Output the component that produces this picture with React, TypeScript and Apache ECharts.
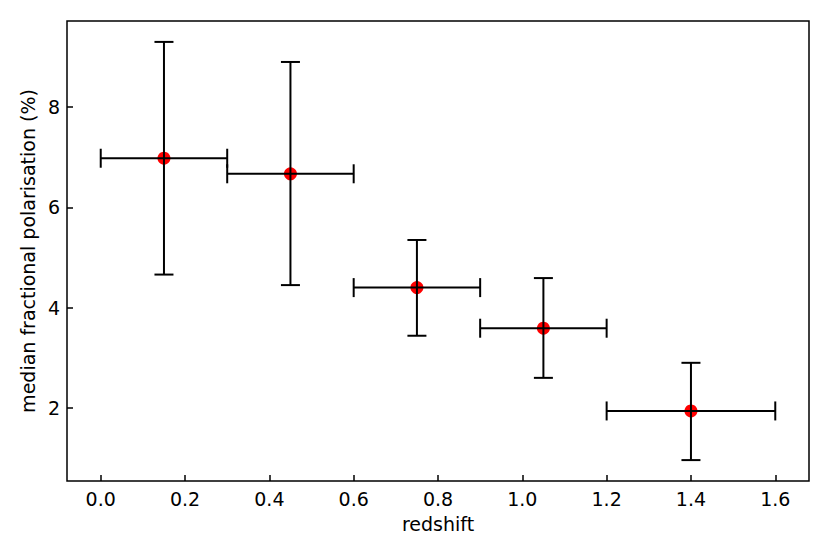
import React, { useEffect, useRef } from "react";
import * as echarts from "echarts";

const redshift = [0.15, 0.45, 0.75, 1.05, 1.4];
const redshiftLow = [0.0, 0.3, 0.6, 0.9, 1.2];
const redshiftHigh = [0.3, 0.6, 0.9, 1.2, 1.6];
const polarisation = [6.98, 6.67, 4.4, 3.59, 1.94];
const polarisationLow = [4.66, 4.45, 3.44, 2.6, 0.96];
const polarisationHigh = [9.3, 8.9, 5.35, 4.59, 2.9];

const xTicks = [0.0, 0.2, 0.4, 0.6, 0.8, 1.0, 1.2, 1.4, 1.6];
const yTicks = [2, 4, 6, 8];

const FONT = "DejaVu Sans";
const FS = 19;

export default function App() {
  const ref = useRef<HTMLDivElement>(null);

  useEffect(() => {
    document.body.style.margin = "0";
    if (!ref.current) return;
    const chart = echarts.init(ref.current, null, { renderer: "svg" });

    const errData = redshift.map((x, i) => [
      x,
      polarisation[i],
      redshiftLow[i],
      redshiftHigh[i],
      polarisationLow[i],
      polarisationHigh[i],
    ]);
    const pts = redshift.map((x, i) => [x, polarisation[i]]);

    const cap = 9.5;
    const lineStyle = { stroke: "#000", lineWidth: 2 };

    chart.setOption({
      animation: false,
      backgroundColor: "#fff",
      grid: {
        left: 67,
        right: 21,
        top: 21,
        bottom: 73,
        show: true,
        borderColor: "#000",
        borderWidth: 1.5,
        backgroundColor: "transparent",
      },
      xAxis: {
        type: "value",
        min: -0.08,
        max: 1.68,
        name: "redshift",
        nameLocation: "middle",
        nameGap: 33,
        nameTextStyle: { fontFamily: FONT, fontSize: FS, color: "#000" },
        axisLine: { show: false, onZero: false },
        splitLine: { show: false },
        axisTick: {
          show: true,
          inside: true,
          length: 6,
          lineStyle: { color: "#000", width: 1.5 },
          customValues: xTicks,
        },
        axisLabel: {
          fontFamily: FONT,
          fontSize: FS,
          color: "#000",
          margin: 8,
          customValues: xTicks,
          formatter: (v: number) => v.toFixed(1),
        },
      },
      yAxis: {
        type: "value",
        min: 0.543,
        max: 9.717,
        name: "median fractional polarisation (%)",
        nameLocation: "middle",
        nameGap: 25,
        nameTextStyle: { fontFamily: FONT, fontSize: FS, color: "#000" },
        axisLine: { show: false, onZero: false },
        splitLine: { show: false },
        axisTick: {
          show: true,
          inside: true,
          length: 6,
          lineStyle: { color: "#000", width: 1.5 },
          customValues: yTicks,
        },
        axisLabel: {
          fontFamily: FONT,
          fontSize: FS,
          color: "#000",
          margin: 7,
          customValues: yTicks,
          formatter: (v: number) => String(v),
        },
      },
      series: [
        {
          type: "scatter",
          data: pts,
          symbol: "circle",
          symbolSize: 13,
          itemStyle: { color: "#ff0000", opacity: 1 },
          z: 2,
        },
        {
          type: "custom",
          data: errData,
          clip: false,
          z: 3,
          renderItem: (params: any, api: any) => {
            const x = api.value(0);
            const y = api.value(1);
            const xl = api.value(2);
            const xh = api.value(3);
            const yl = api.value(4);
            const yh = api.value(5);
            const pL = api.coord([xl, y]);
            const pH = api.coord([xh, y]);
            const pB = api.coord([x, yl]);
            const pT = api.coord([x, yh]);
            const mk = (x1: number, y1: number, x2: number, y2: number) => ({
              type: "line",
              shape: { x1, y1, x2, y2 },
              style: lineStyle,
            });
            return {
              type: "group",
              children: [
                mk(pL[0], pL[1], pH[0], pH[1]),
                mk(pL[0], pL[1] - cap, pL[0], pL[1] + cap),
                mk(pH[0], pH[1] - cap, pH[0], pH[1] + cap),
                mk(pB[0], pB[1], pT[0], pT[1]),
                mk(pB[0] - cap, pB[1], pB[0] + cap, pB[1]),
                mk(pT[0] - cap, pT[1], pT[0] + cap, pT[1]),
              ],
            };
          },
        },
      ],
    });

    return () => chart.dispose();
  }, []);

  return <div ref={ref} style={{ width: 830, height: 554 }} />;
}
